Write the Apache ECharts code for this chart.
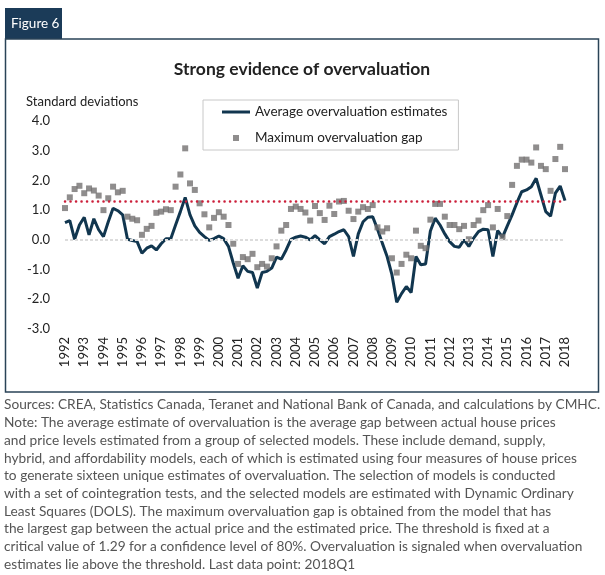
<!DOCTYPE html>
<html>
<head>
<meta charset="utf-8">
<script src="https://cdn.jsdelivr.net/npm/echarts@6/dist/echarts.min.js"></script>
<style>
html,body{margin:0;padding:0;background:#fff;}
#chart{width:605px;height:575px;}
</style>
</head>
<body>
<div id="chart"></div>
<script>
// ---- data ----
var years = ['1992','1993','1994','1995','1996','1997','1998','1999','2000','2001','2002','2003','2004','2005','2006','2007','2008','2009','2010','2011','2012','2013','2014','2015','2016','2017','2018'];

// Average overvaluation estimates (quarterly, 1992Q1 - 2018Q1)
var avgEstimates = [
  0.58, 0.65, 0.02, 0.50, 0.76, 0.17, 0.71, 0.34,
  0.11, 0.61, 1.06, 0.98, 0.84, 0.02, -0.02, -0.06,
  -0.45, -0.28, -0.20, -0.34, -0.13, 0.04, 0.04, 0.50,
  0.95, 1.43, 0.84, 0.47, 0.25, 0.11, -0.02, 0.04,
  0.13, 0.04, -0.22, -0.78, -1.29, -0.87, -1.06, -1.10,
  -1.62, -1.10, -1.06, -0.95, -0.58, -0.65, -0.34, 0.02,
  0.09, 0.13, 0.09, 0.00, 0.14, 0.00, -0.13, 0.11,
  0.19, 0.28, 0.34, 0.11, -0.56, 0.20, 0.61, 0.76,
  0.78, 0.36, -0.11, -0.56, -1.17, -2.10, -1.81, -1.57,
  -1.77, -0.56, -0.84, -0.81, 0.30, 0.73, 0.50, 0.20,
  -0.06, -0.22, -0.25, 0.00, -0.22, 0.06, 0.28, 0.36,
  0.34, -0.56, 0.31, 0.09, 0.47, 0.84, 1.25, 1.62,
  1.68, 1.79, 2.07, 1.51, 0.95, 0.80, 1.57, 1.81,
  1.32
];

// Maximum overvaluation gap (quarterly, 1992Q1 - 2018Q1)
var maxGap = [
  1.07, 1.43, 1.71, 1.82, 1.57, 1.73, 1.66, 1.49,
  1.00, 1.40, 1.79, 1.60, 1.65, 0.78, 0.71, 0.66,
  0.17, 0.37, 0.47, 0.91, 0.95, 1.03, 1.00, 1.79,
  2.20, 3.08, 1.90, 1.68, 1.23, 0.86, 0.42, 0.74,
  0.93, 0.78, 0.50, -0.13, -0.81, -0.58, -0.65, -0.47,
  -0.92, -0.81, -0.90, -0.62, -0.22, 0.31, 0.50, 1.04,
  1.12, 1.04, 0.92, 0.65, 1.14, 0.90, 0.67, 1.15,
  0.87, 1.29, 1.31, 0.98, 0.70, 0.95, 1.10, 1.04,
  1.17, 0.42, 0.28, 0.39, -0.62, -1.10, -0.81, -0.50,
  -0.62, 0.31, -0.20, -0.28, 0.68, 1.21, 1.21, 0.78,
  0.50, 0.50, 0.36, 0.47, 0.02, 0.50, 0.65, 1.00,
  1.17, 0.42, 1.04, 0.09, 0.80, 1.85, 2.49, 2.70,
  2.70, 2.60, 3.11, 2.49, 2.38, 1.65, 2.72, 3.13,
  2.38
];

var threshold = 1.29;
var yTicks = [-3, -2, -1, 0, 1, 2, 3, 4];

var noteLines = [
  'Sources: CREA, Statistics Canada, Teranet and National Bank of Canada, and calculations by CMHC.',
  'Note: The average estimate of overvaluation is the average gap between actual house prices',
  'and price levels estimated from a group of selected models. These include demand, supply,',
  'hybrid, and affordability models, each of which is estimated using four measures of house prices',
  'to generate sixteen unique estimates of overvaluation. The selection of models is conducted',
  'with a set of cointegration tests, and the selected models are estimated with Dynamic Ordinary',
  'Least Squares (DOLS). The maximum overvaluation gap is obtained from the model that has',
  'the largest gap between the actual price and the estimated price. The threshold is fixed at a',
  'critical value of 1.29 for a confidence level of 80%. Overvaluation is signaled when overvaluation',
  'estimates lie above the threshold. Last data point: 2018Q1'
];

// quarterly categories built from the year labels
var quarters = [];
years.forEach(function (y) {
  for (var q = 1; q <= 4; q++) {
    if (quarters.length < avgEstimates.length) quarters.push(y + 'Q' + q);
  }
});

var FONT = 'Lato';
var chart = echarts.init(document.getElementById('chart'), null, {renderer: 'canvas'});

var graphics = [
  {type: 'rect', shape: {x: 5, y: 8, width: 57, height: 31}, style: {fill: '#1b3b58'}, z: 1},
  {type: 'text', x: 11, y: 24, style: {text: 'Figure 6', fill: '#fff', font: '13.5px ' + FONT, textVerticalAlign: 'middle'}, z: 2},
  {type: 'rect', shape: {x: 5.5, y: 39, width: 593, height: 353}, style: {fill: 'none', stroke: '#2a4357', lineWidth: 1.5}, z: 1},
  {type: 'text', x: 302, y: 69, style: {text: 'Strong evidence of overvaluation', fill: '#222', font: 'bold 17.5px ' + FONT, textAlign: 'center', textVerticalAlign: 'middle'}},
  {type: 'text', x: 26, y: 102, style: {text: 'Standard deviations', fill: '#222', font: '13px ' + FONT, textVerticalAlign: 'middle'}}
];
noteLines.forEach(function (t, k) {
  graphics.push({type: 'text', x: 4, y: 405 + k * 17.7, style: {text: t, fill: '#555', font: '13.7px ' + FONT, textVerticalAlign: 'middle'}});
});

chart.setOption({
  animation: false,
  backgroundColor: '#fff',
  textStyle: {fontFamily: FONT},
  grid: {left: 65, right: 40, top: 121, bottom: 246, containLabel: false},
  legend: {
    left: 203, top: 100,
    orient: 'vertical',
    padding: [5, 11, 5, 19],
    itemWidth: 28, itemHeight: 7, itemGap: 12,
    borderColor: '#c8c8c8', borderWidth: 1,
    textStyle: {fontSize: 13.5, color: '#222', fontFamily: FONT},
    data: [
      {name: 'Average overvaluation estimates', icon: 'path://M0,0 M28,7 M0,2 L28,2 L28,5 L0,5 Z'},
      {name: 'Maximum overvaluation gap', icon: 'path://M0,0 M28,7 M11,0.5 L17,0.5 L17,6.5 L11,6.5 Z'}
    ]
  },
  xAxis: {
    type: 'category',
    data: quarters,
    boundaryGap: false,
    axisLine: {show: false},
    axisTick: {show: false},
    splitLine: {show: false},
    axisLabel: {
      interval: function (i) { return i % 4 === 0; },
      formatter: function (v) { return v.slice(0, 4); },
      rotate: 90, margin: 8, fontSize: 13, color: '#222', fontFamily: FONT
    }
  },
  yAxis: {
    type: 'value',
    min: yTicks[0], max: yTicks[yTicks.length - 1], interval: 1,
    axisLine: {show: false},
    axisTick: {show: false},
    splitLine: {show: false},
    axisLabel: {
      formatter: function (v) { return v.toFixed(1); },
      margin: 15, fontSize: 13, color: '#222', fontFamily: FONT
    }
  },
  series: [
    {
      name: 'Average overvaluation estimates',
      type: 'line',
      data: avgEstimates,
      symbol: 'none',
      lineStyle: {color: '#11364f', width: 3},
      itemStyle: {color: '#11364f'},
      z: 3,
      markLine: {
        silent: true, symbol: 'none', label: {show: false},
        data: [
          {yAxis: 0, lineStyle: {color: '#dcdcdc', width: 2, type: [3, 2]}},
          {yAxis: threshold, lineStyle: {color: '#cc1f3a', width: 2.5, type: [0.1, 5.4], cap: 'round'}}
        ]
      }
    },
    {
      name: 'Maximum overvaluation gap',
      type: 'scatter',
      data: maxGap,
      symbol: 'rect',
      symbolSize: 6,
      itemStyle: {color: '#737070'},
      z: 4
    }
  ],
  graphic: graphics
});
</script>
</body>
</html>
